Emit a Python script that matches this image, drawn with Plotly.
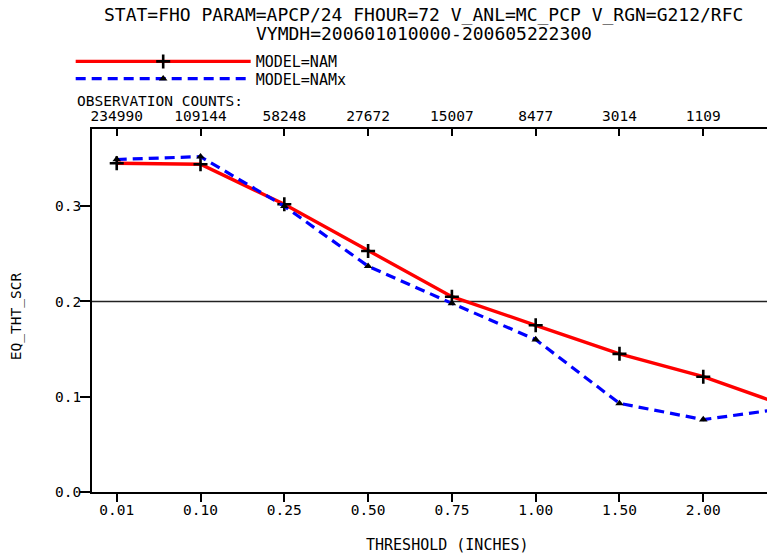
import plotly.graph_objects as go

thresholds = ["0.01", "0.10", "0.25", "0.50", "0.75", "1.00", "1.50", "2.00", "3.00"]
obs_counts = ["234990", "109144", "58248", "27672", "15007", "8477", "3014", "1109"]
nam = [0.345, 0.344, 0.302, 0.253, 0.205, 0.175, 0.145, 0.121, 0.090]
namx = [0.349, 0.352, 0.300, 0.237, 0.198, 0.160, 0.093, 0.076, 0.088]

title_1 = "STAT=FHO PARAM=APCP/24 FHOUR=72 V_ANL=MC_PCP V_RGN=G212/RFC"
title_2 = "VYMDH=200601010000-200605222300"

FONT = "DejaVu Sans Mono"
xpos = list(range(len(thresholds)))
XR = [-0.295, 7.856]
YR = [0, 0.381]

fig = go.Figure()
fig.add_trace(go.Scatter(
    x=xpos, y=nam, mode="lines+markers", name="MODEL=NAM", legend="legend",
    line=dict(color="#ff0000", width=3.4),
    marker=dict(symbol="cross-thin", size=10, color="black",
                line=dict(color="black", width=2.6)),
))
fig.add_trace(go.Scatter(
    x=xpos, y=namx, mode="lines+markers", name="MODEL=NAMx", legend="legend2",
    line=dict(color="#0000ff", width=3.2, dash="10px,6px"),
    marker=dict(symbol="triangle-up", size=7.5, color="black"),
))
fig.add_trace(go.Scatter(x=[None], y=[None], xaxis="x2", showlegend=False))

fig.add_shape(type="line", xref="x domain", yref="y", x0=0, x1=1, y0=0.2, y1=0.2,
              line=dict(color="#222222", width=1.5), layer="below")

axis_common = dict(showgrid=False, zeroline=False, showline=True, linecolor="black",
                   linewidth=1.6, tickwidth=1.5, tickcolor="black")

legend_common = dict(xanchor="left", yanchor="middle", itemwidth=175,
                     font=dict(size=15), bgcolor="rgba(0,0,0,0)",
                     borderwidth=0, x=-0.0312)

fig.update_layout(
    width=767, height=547,
    margin=dict(l=84, r=0, t=121, b=63),
    paper_bgcolor="white", plot_bgcolor="white",
    font=dict(family=FONT, size=14.5, color="black"),
    xaxis=dict(range=XR, tickmode="array", tickvals=xpos, ticktext=thresholds,
               ticks="outside", ticklen=8, ticklabelstandoff=-4, **axis_common),
    xaxis2=dict(overlaying="x", side="top", range=XR, tickmode="array",
                tickvals=xpos[:len(obs_counts)], ticktext=obs_counts,
                ticks="inside", ticklen=7, **axis_common),
    yaxis=dict(range=YR, tickmode="array", tickvals=[0, 0.1, 0.2, 0.3],
               ticktext=["0.0", "0.1", "0.2", "0.3"],
               ticks="outside", ticklen=10, ticklabelstandoff=-4, **axis_common),
    legend=dict(y=1.1855, **legend_common),
    legend2=dict(y=1.1379, **legend_common),
    showlegend=True,
)

ann_font = dict(family=FONT, color="black")
fig.add_annotation(text=title_1, xref="paper", yref="paper", x=0.4857, y=1.316,
                   xanchor="center", yanchor="middle", showarrow=False,
                   font=dict(size=18, **ann_font))
fig.add_annotation(text=title_2, xref="paper", yref="paper", x=0.4857, y=1.262,
                   xanchor="center", yanchor="middle", showarrow=False,
                   font=dict(size=18, **ann_font))
fig.add_annotation(text="OBSERVATION COUNTS:", xref="paper", yref="paper",
                   x=-0.0249, y=1.078, xanchor="left", yanchor="middle",
                   showarrow=False, font=dict(size=14.5, **ann_font))
fig.add_annotation(text="THRESHOLD (INCHES)", xref="paper", yref="paper",
                   x=0.5198, y=-0.147, xanchor="center", yanchor="middle",
                   showarrow=False, font=dict(size=15, **ann_font))
fig.add_annotation(text="EQ_THT_SCR", xref="paper", yref="paper", textangle=-90,
                   x=-0.1113, y=0.4844, xanchor="center", yanchor="middle",
                   showarrow=False, font=dict(size=14.5, **ann_font))
fig.add_annotation(text=thresholds[-1], xref="paper", yref="paper",
                   x=(xpos[-1] - XR[0]) / (XR[1] - XR[0]), y=-0.0452,
                   xanchor="center", yanchor="middle", showarrow=False,
                   font=dict(size=14.5, **ann_font))

fig.write_html("out.html")
